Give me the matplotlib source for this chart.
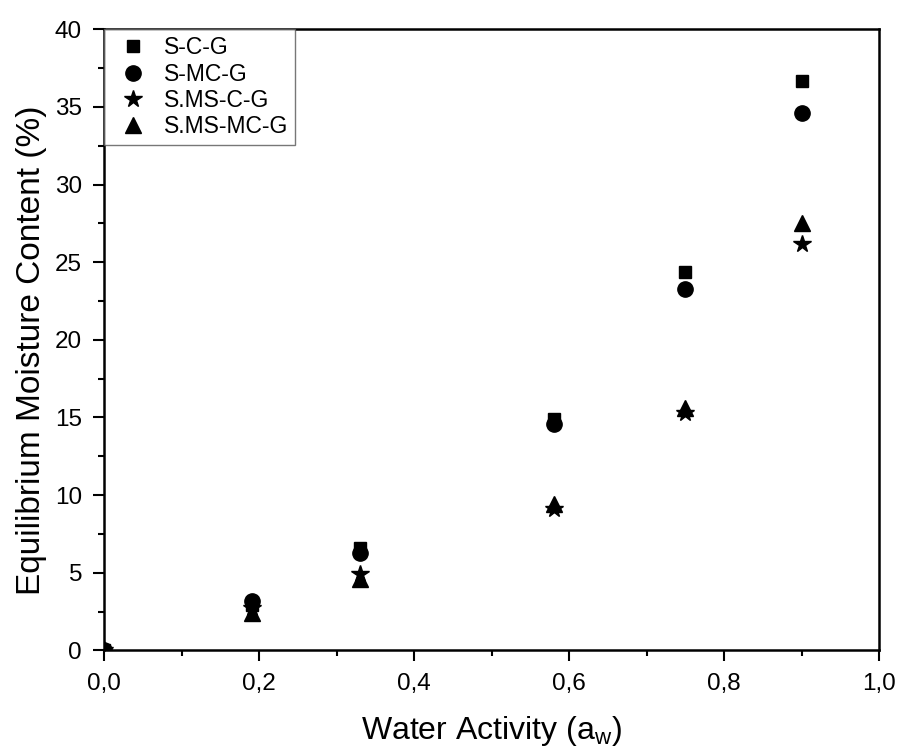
import matplotlib
matplotlib.use('Agg')
import matplotlib.pyplot as plt
from matplotlib.ticker import MultipleLocator, FuncFormatter

plt.rcParams['font.family'] = ['Liberation Sans', 'DejaVu Sans']

# water activity
aw = [0.0, 0.19, 0.33, 0.58, 0.75, 0.90]

# equilibrium moisture content (%)
s_c_g = [0.0, 2.9, 6.6, 14.9, 24.4, 36.7]
s_mc_g = [0.0, 3.2, 6.3, 14.6, 23.3, 34.6]
s_ms_c_g = [0.0, 2.7, 4.9, 9.1, 15.3, 26.2]
s_ms_mc_g = [0.0, 2.4, 4.6, 9.4, 15.6, 27.5]

labels = ['S-C-G', 'S-MC-G', 'S.MS-C-G', 'S.MS-MC-G']
markers = ['s', 'o', '*', '^']
sizes = [9, 11, 13, 12]

fig = plt.figure(figsize=(8.99, 7.51), dpi=100)
ax = fig.add_axes([0.116, 0.134, 0.862, 0.827])

for ys, lab, m, ms in zip([s_c_g, s_mc_g, s_ms_c_g, s_ms_mc_g], labels, markers, sizes):
    ax.plot(aw, ys, linestyle='none', marker=m, markersize=ms, color='black', label=lab)

ax.set_xlim(0, 1.0)
ax.set_ylim(0, 40)
ax.xaxis.set_major_locator(MultipleLocator(0.2))
ax.xaxis.set_minor_locator(MultipleLocator(0.1))
ax.yaxis.set_major_locator(MultipleLocator(5))
ax.yaxis.set_minor_locator(MultipleLocator(2.5))
ax.xaxis.set_major_formatter(FuncFormatter(lambda v, p: f'{v:.1f}'.replace('.', ',')))

ax.tick_params(which='major', direction='out', length=8, width=1.5, labelsize=17.5, pad=8)
ax.tick_params(which='minor', direction='out', length=4, width=1.5)
for sp in ax.spines.values():
    sp.set_linewidth(1.8)

ax.set_xlabel('Water Activity (a$_\\mathregular{w}$)', fontsize=23, labelpad=14)
ax.set_ylabel('Equilibrium Moisture Content (%)', fontsize=24)
ax.yaxis.set_label_coords(-0.074, 0.483)

leg = ax.legend(loc='upper left', fontsize=16.5, frameon=True, fancybox=False,
                handletextpad=0.4, borderaxespad=0.0, labelspacing=0.15,
                borderpad=0.3, handlelength=1.9)
leg.get_frame().set_edgecolor('#555555')
leg.get_frame().set_linewidth(1.0)

fig.savefig('out.png', dpi=100)
